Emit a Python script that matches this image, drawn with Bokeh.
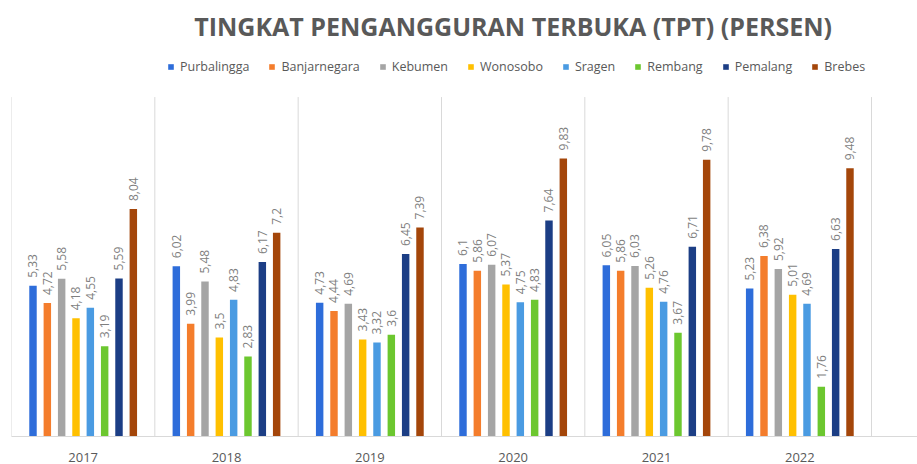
import numpy as np
from bokeh.plotting import figure
from bokeh.models import (ColumnDataSource, Range1d, FixedTicker, LabelSet, Label,
                          Legend, LegendItem)
from bokeh.core.properties import value
from bokeh.embed import file_html
from bokeh.resources import INLINE

# ---- data ----
years = ["2017", "2018", "2019", "2020", "2021", "2022"]
regions = ["Purbalingga", "Banjarnegara", "Kebumen", "Wonosobo",
           "Sragen", "Rembang", "Pemalang", "Brebes"]
purbalingga = [5.33, 6.02, 4.73, 6.10, 6.05, 5.23]
banjarnegara = [4.72, 3.99, 4.44, 5.86, 5.86, 6.38]
kebumen = [5.58, 5.48, 4.69, 6.07, 6.03, 5.92]
wonosobo = [4.18, 3.50, 3.43, 5.37, 5.26, 5.01]
sragen = [4.55, 4.83, 3.32, 4.75, 4.76, 4.69]
rembang = [3.19, 2.83, 3.60, 4.83, 3.67, 1.76]
pemalang = [5.59, 6.17, 6.45, 7.64, 6.71, 6.63]
brebes = [8.04, 7.20, 7.39, 9.83, 9.78, 9.48]
series = [purbalingga, banjarnegara, kebumen, wonosobo, sragen, rembang, pemalang, brebes]
colors = ["#2E6DDA", "#F47D2C", "#A5A5A5", "#FFC000",
          "#4A9BE2", "#6CC72F", "#1C3E85", "#A4460A"]
title_text = "TINGKAT PENGANGGURAN TERBUKA (TPT) (PERSEN)"
axis_max = 12

FONT = "Open Sans"
n_cat = len(years)
slot = 0.1
bar_w = 0.052
px_per_unit = 341 / axis_max
frame_h = 438

p = figure(width=917, height=464, output_backend="svg", toolbar_location=None,
           x_range=Range1d(0, 6.321), y_range=Range1d(0, frame_h / px_per_unit),
           y_axis_location=None,
           min_border_left=11, min_border_right=0, min_border_top=0, min_border_bottom=26)
p.outline_line_color = None
p.background_fill_color = "white"
p.border_fill_color = "white"

# category separators (plot-area gridlines up to axis max)
seps = list(range(n_cat + 1))
p.segment(x0=seps, y0=[0] * len(seps), x1=seps, y1=[axis_max] * len(seps),
          line_color="#D9D9D9", line_width=1)

items = []
centers = np.arange(n_cat) + 0.5
for k, (name, vals, col) in enumerate(zip(regions, series, colors)):
    xs = centers + (k - (len(regions) - 1) / 2) * slot
    src = ColumnDataSource(dict(x=xs, top=vals,
                                lbl=[f"{v:g}".replace(".", ",") for v in vals]))
    r = p.vbar(x="x", top="top", width=bar_w, source=src, fill_color=col, line_color=None)
    items.append(LegendItem(label=name, renderers=[r]))
    ls = LabelSet(x="x", y="top", text="lbl", source=src, angle=np.pi / 2,
                  text_align="left", text_baseline="middle", y_offset=8,
                  text_font=value(FONT), text_font_size="12px", text_color="#7F7F7F")
    p.add_layout(ls)

# axes / grid
p.xaxis.ticker = FixedTicker(ticks=list(centers))
p.xaxis.major_label_overrides = {float(c): y for c, y in zip(centers, years)}
p.xaxis.major_tick_line_color = None
p.xaxis.minor_tick_line_color = None
p.xaxis.axis_line_color = "#D9D9D9"
p.xaxis.axis_line_width = 1
p.xaxis.major_label_text_color = "#595959"
p.xaxis.major_label_text_font = FONT
p.xaxis.major_label_text_font_size = "13px"
p.xaxis.major_label_standoff = 10
p.xgrid.visible = False
p.ygrid.visible = False

# title
p.add_layout(Label(x=3.5, y=(frame_h - 26) / px_per_unit, text=title_text, text_align="center",
                   text_baseline="middle", text_font=FONT, text_font_size="25px",
                   text_font_style="bold", text_color="#595959"))

legend = Legend(items=items, orientation="horizontal", location=(156, 361),
                label_text_font=FONT, label_text_font_size="12.5px",
                label_text_color="#595959", glyph_width=7, glyph_height=7,
                label_standoff=6, spacing=19, padding=0, margin=0,
                border_line_color=None, background_fill_alpha=0)
p.add_layout(legend, "center")

open("out.html", "w").write(file_html(p, INLINE))
